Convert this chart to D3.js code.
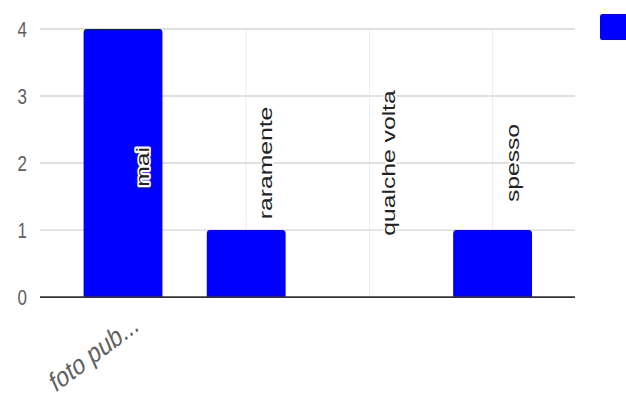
<!DOCTYPE html>
<html>
<head>
<meta charset="utf-8">
<script src="https://cdn.jsdelivr.net/npm/d3@7"></script>
<style>
  html, body { margin: 0; padding: 0; background: #fff; }
  svg { display: block; }
</style>
</head>
<body>
<svg id="chart"></svg>
<script>
// Data
const categories = ["foto pub..."];
const series = ["mai", "raramente", "qualche volta", "spesso"];
const values = [4, 1, 0, 1];
const yTicks = [0, 1, 2, 3, 4];

// The drawing uses a 626x310 coordinate space stretched to the 626x403 page.
const W = 626, H = 310;
const svg = d3.select("#chart")
  .attr("width", 626).attr("height", 403)
  .attr("viewBox", `0 0 ${W} ${H}`)
  .attr("preserveAspectRatio", "none");

const font = "'Liberation Sans', Arial, sans-serif";

const x = d3.scaleBand()
  .domain(series)
  .range([61.4, 554.2])
  .paddingInner(0.36)
  .paddingOuter(0.18);

const y = d3.scaleLinear().domain([0, 4]).range([228.5, 22.3]);

const gridX0 = 40, gridX1 = 575;

// vertical grid lines at each bar centre
svg.append("g").selectAll("line")
  .data(series)
  .join("line")
  .attr("x1", d => x(d) + x.bandwidth() / 2)
  .attr("x2", d => x(d) + x.bandwidth() / 2)
  .attr("y1", y(4)).attr("y2", y(0))
  .attr("stroke", "#ececec").attr("stroke-width", 1);

// horizontal grid lines
svg.append("g").selectAll("line")
  .data(yTicks.filter(t => t !== 0))
  .join("line")
  .attr("x1", gridX0).attr("x2", gridX1)
  .attr("y1", d => y(d)).attr("y2", d => y(d))
  .attr("stroke", "#d6d6d6").attr("stroke-width", 1);

// y tick labels
svg.append("g").selectAll("text")
  .data(yTicks)
  .join("text")
  .attr("x", 27)
  .attr("y", d => y(d))
  .attr("dy", "0.36em")
  .attr("text-anchor", "end")
  .attr("font-family", font)
  .attr("font-size", 17)
  .attr("fill", "#5f5f5f")
  .text(d => d);

// bars
svg.append("g").selectAll("path")
  .data(series.map((s, i) => ({ s, v: values[i] })).filter(d => d.v > 0))
  .join("path")
  .attr("fill", "#0000ff")
  .attr("d", d => {
    const x0 = x(d.s), w = x.bandwidth();
    const y0 = y(d.v), y1 = y(0), r = 3;
    return `M${x0},${y1}V${y0 + r}Q${x0},${y0} ${x0 + r},${y0}` +
           `H${x0 + w - r}Q${x0 + w},${y0} ${x0 + w},${y0 + r}V${y1}Z`;
  });

// baseline
svg.append("line")
  .attr("x1", gridX0).attr("x2", gridX1)
  .attr("y1", y(0)).attr("y2", y(0))
  .attr("stroke", "#333").attr("stroke-width", 1.3);

// series annotations, rotated
const midY = (y(0) + y(4)) / 2;
svg.append("g").selectAll("text")
  .data(series)
  .join("text")
  .attr("transform", d => `translate(${x(d) + x.bandwidth() / 2 + 26},${midY + (d === "mai" ? 3 : 0)}) rotate(-90)`)
  .attr("text-anchor", "middle")
  .attr("font-family", font)
  .attr("font-size", 19)
  .attr("fill", "#222")
  .attr("stroke", "#fff")
  .attr("stroke-width", 3.5)
  .attr("stroke-linejoin", "round")
  .attr("paint-order", "stroke")
  .text(d => d);

// category label
svg.append("text")
  .attr("transform", `translate(${x(series[0]) + x.bandwidth() / 2 + 17},${y(0) + 25}) rotate(-30)`)
  .attr("text-anchor", "end")
  .attr("font-family", font)
  .attr("font-size", 22)
  .attr("fill", "#5f5f5f")
  .text(categories[0]);

// legend swatch
svg.append("rect")
  .attr("x", 600).attr("y", 10.8)
  .attr("width", 30).attr("height", 20)
  .attr("rx", 2)
  .attr("fill", "#0000ff");
</script>
</body>
</html>
